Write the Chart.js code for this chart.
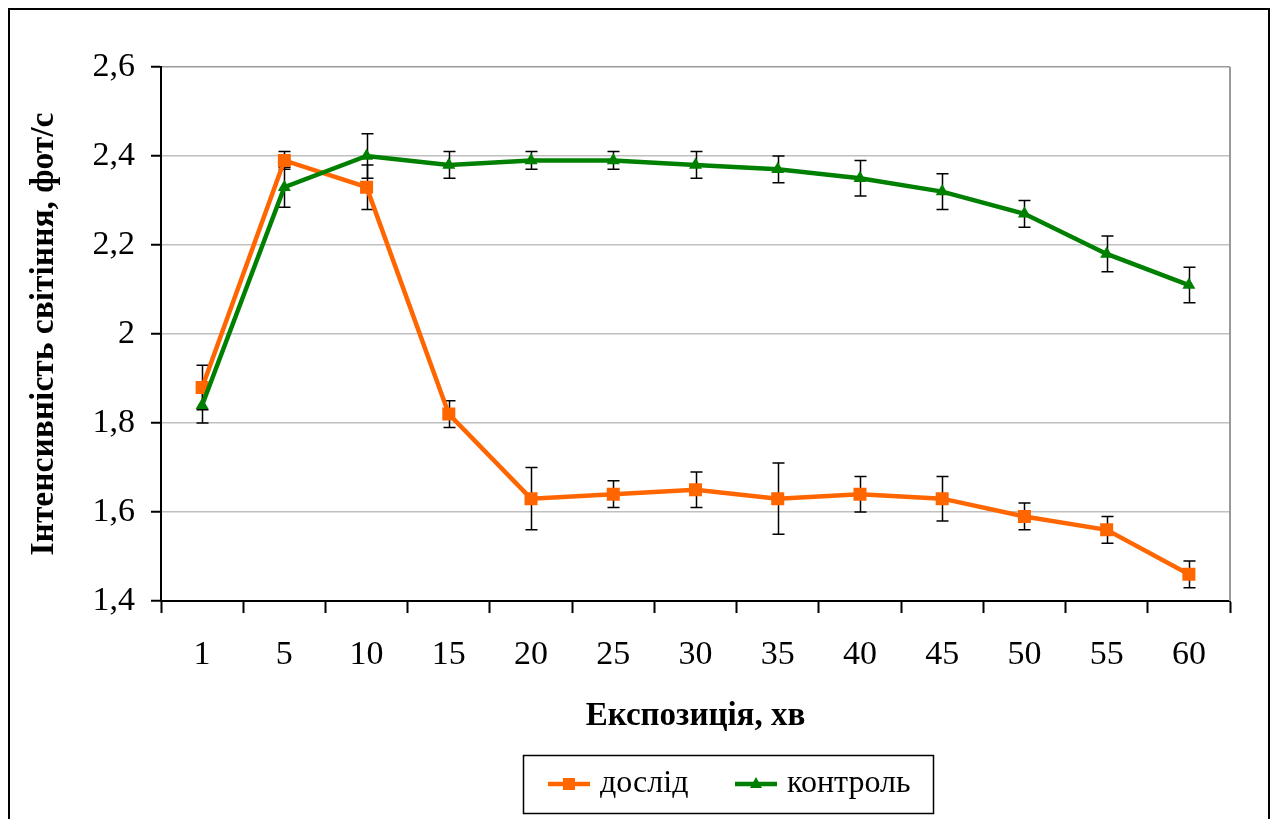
<!DOCTYPE html>
<html>
<head>
<meta charset="utf-8">
<script src="https://cdn.jsdelivr.net/npm/chart.js@4.4.1/dist/chart.umd.min.js"></script>
<style>
  html, body { margin: 0; padding: 0; background: #ffffff; }
  #wrap { width: 1271px; height: 819px; position: relative; }
</style>
</head>
<body>
<div id="wrap"><canvas id="c" width="1271" height="819"></canvas></div>
<script>
// ---- data ----
const categories = ['1', '5', '10', '15', '20', '25', '30', '35', '40', '45', '50', '55', '60'];
const doslidValues = [1.88, 2.39, 2.33, 1.82, 1.63, 1.64, 1.65, 1.63, 1.64, 1.63, 1.59, 1.56, 1.46];
const doslidErrors = [0.05, 0.02, 0.05, 0.03, 0.07, 0.03, 0.04, 0.08, 0.04, 0.05, 0.03, 0.03, 0.03];
const kontrolValues = [1.84, 2.33, 2.40, 2.38, 2.39, 2.39, 2.38, 2.37, 2.35, 2.32, 2.27, 2.18, 2.11];
const kontrolErrors = [0.04, 0.045, 0.05, 0.03, 0.02, 0.02, 0.03, 0.03, 0.04, 0.04, 0.03, 0.04, 0.04];
const yTickLabels = ['1,4', '1,6', '1,8', '2', '2,2', '2,4', '2,6'];
const seriesNames = ['дослід', 'контроль'];
const xTitle = 'Експозиція, хв';
const yTitle = 'Інтенсивність світіння, фот/с';

const FONT = "'Liberation Serif', 'Times New Roman', serif";
const ORANGE = '#FF6600';
const GREEN = '#008000';

// error bars plugin (uses chart scales)
const errorBarPlugin = {
  id: 'errorBars',
  beforeDatasetsDraw(chart) {
    const ctx = chart.ctx;
    const yScale = chart.scales.y;
    ctx.save();
    ctx.strokeStyle = '#000';
    ctx.lineWidth = 1.5;
    chart.data.datasets.forEach((ds, i) => {
      const meta = chart.getDatasetMeta(i);
      const errs = ds.errors;
      meta.data.forEach((pt, j) => {
        const v = ds.data[j];
        const e = errs[j];
        const yT = yScale.getPixelForValue(v + e);
        const yB = yScale.getPixelForValue(v - e);
        const x = Math.round(pt.x) + 0.5;
        ctx.beginPath();
        ctx.moveTo(x, yT); ctx.lineTo(x, yB);
        ctx.moveTo(x - 6, yT); ctx.lineTo(x + 6, yT);
        ctx.moveTo(x - 6, yB); ctx.lineTo(x + 6, yB);
        ctx.stroke();
      });
    });
    ctx.restore();
  }
};

// frame, plot border and legend box
const framePlugin = {
  id: 'frame',
  beforeDraw(chart) {
    const ctx = chart.ctx;
    ctx.save();
    ctx.fillStyle = '#fff';
    ctx.fillRect(0, 0, chart.width, chart.height);
    ctx.restore();
  },
  afterDraw(chart) {
    const ctx = chart.ctx;
    const a = chart.chartArea;
    ctx.save();
    // plot area right border (gray)
    ctx.strokeStyle = '#999999';
    ctx.lineWidth = 2;
    ctx.beginPath();
    ctx.moveTo(a.right, a.top);
    ctx.lineTo(a.right, a.bottom);
    ctx.stroke();
    // outer chart border
    ctx.strokeStyle = '#000';
    ctx.lineWidth = 2;
    ctx.strokeRect(9, 9, 1260, 900);
    // legend
    const lx = 523, ly = 755, lw = 410, lh = 58;
    ctx.lineWidth = 1.5;
    ctx.strokeRect(lx + 0.5, ly + 0.5, lw, lh);
    const cy = ly + lh / 2;
    const items = [
      { x: 548, ds: chart.data.datasets[0] },
      { x: 735, ds: chart.data.datasets[1] }
    ];
    items.forEach(it => {
      const ds = it.ds;
      ctx.strokeStyle = ds.borderColor;
      ctx.lineWidth = 4.5;
      ctx.beginPath();
      ctx.moveTo(it.x, cy); ctx.lineTo(it.x + 42, cy);
      ctx.stroke();
      ctx.fillStyle = ds.backgroundColor;
      const mx = it.x + 21;
      if (ds.pointStyle === 'rect') {
        ctx.fillRect(mx - 6, cy - 6, 12, 12);
      } else {
        ctx.beginPath();
        ctx.moveTo(mx, cy - 7);
        ctx.lineTo(mx + 6, cy + 4);
        ctx.lineTo(mx - 6, cy + 4);
        ctx.closePath();
        ctx.fill();
      }
      ctx.fillStyle = '#000';
      ctx.font = '32px ' + FONT;
      ctx.textBaseline = 'middle';
      ctx.textAlign = 'left';
      ctx.fillText(ds.label, it.x + 52, cy);
    });
    ctx.restore();
  }
};

const chart = new Chart(document.getElementById('c'), {
  type: 'line',
  data: {
    labels: categories,
    datasets: [
      {
        label: seriesNames[0],
        data: doslidValues,
        errors: doslidErrors,
        borderColor: ORANGE,
        backgroundColor: ORANGE,
        borderWidth: 4.5,
        pointStyle: 'rect',
        pointRadius: 9.2,
        pointHoverRadius: 9.2,
        pointBorderWidth: 0,
        tension: 0,
        order: 1
      },
      {
        label: seriesNames[1],
        data: kontrolValues,
        errors: kontrolErrors,
        borderColor: GREEN,
        backgroundColor: GREEN,
        borderWidth: 4.5,
        pointStyle: 'triangle',
        pointRadius: 7.5,
        pointHoverRadius: 7.5,
        pointBorderWidth: 0,
        tension: 0,
        order: 0
      }
    ]
  },
  options: {
    responsive: false,
    devicePixelRatio: 1,
    animation: false,
    events: [],
    layout: { padding: { left: 0, right: 41, top: 67, bottom: 83 } },
    plugins: {
      legend: { display: false },
      tooltip: { enabled: false },
      title: { display: false }
    },
    scales: {
      x: {
        type: 'category',
        offset: true,
        border: { display: true, color: '#000', width: 2 },
        grid: {
          offset: true,
          drawOnChartArea: false,
          drawTicks: true,
          tickLength: 12,
          tickColor: '#000',
          tickWidth: 2,
          color: '#000'
        },
        ticks: {
          color: '#000',
          font: { family: FONT, size: 34 },
          padding: 22,
          maxRotation: 0,
          autoSkip: false
        },
        title: {
          display: true,
          text: xTitle,
          color: '#000',
          font: { family: FONT, size: 33, weight: 'bold' },
          padding: { top: 0, bottom: 0 }
        },
        afterFit(scale) { scale.height = 135; }
      },
      y: {
        min: 1.4,
        max: 2.6,
        border: { display: true, color: '#000', width: 2 },
        grid: {
          color: (c) => (c.tick && c.tick.value > 2.59) ? '#999999' : '#c0c0c0',
          lineWidth: 1.5,
          tickLength: 10,
          tickColor: '#000',
          tickWidth: 2
        },
        ticks: {
          stepSize: 0.2,
          color: '#000',
          font: { family: FONT, size: 34 },
          padding: 16,
          callback: (value, index) => yTickLabels[index]
        },
        title: {
          display: true,
          text: yTitle,
          color: '#000',
          font: { family: FONT, size: 33.5, weight: 'bold' },
          padding: { top: 24, bottom: 0 }
        },
        afterFit(scale) { scale.width = 161; }
      }
    }
  },
  plugins: [framePlugin, errorBarPlugin]
});
</script>
</body>
</html>
